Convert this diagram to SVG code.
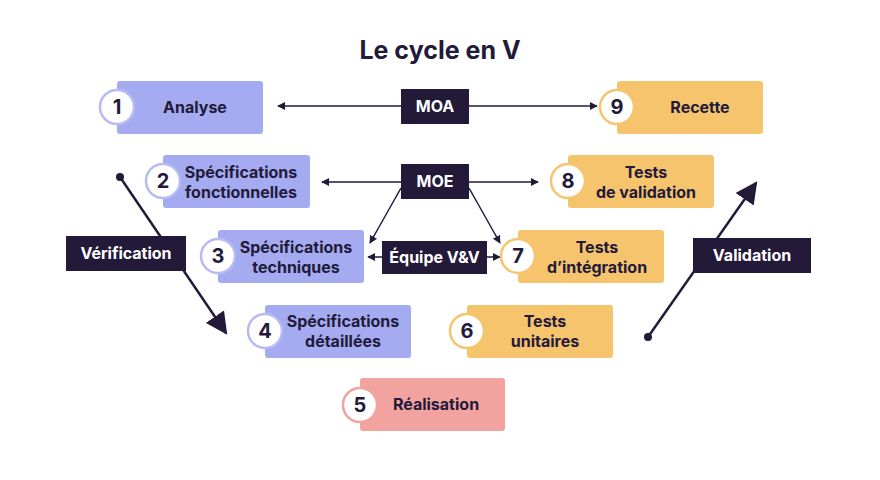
<svg xmlns="http://www.w3.org/2000/svg" width="880" height="480" viewBox="0 0 880 480">
<defs>
<style>
text{font-family:Inter,"Liberation Sans",sans-serif;font-weight:700;fill:#231a3a;text-anchor:middle}
.b{fill:#a4abf1}.o{fill:#f5c46d}.r{fill:#f2a39f}
.cb{fill:#fff;stroke:#b7bbf5;stroke-width:2.5}.co{fill:#fff;stroke:#f5c46d;stroke-width:2.5}.cr{fill:#fff;stroke:#f2a39f;stroke-width:2.5}
.t{font-size:16px}.n{font-size:20px}
.d{fill:#231a3a}.w{fill:#fff;font-size:16px}
.l{stroke:#231a3a;stroke-width:1.5;fill:none;marker-end:url(#a)}
.v{stroke:#231a3a;stroke-width:2.5;fill:none}
</style>
<marker id="a" viewBox="0 0 10 10" refX="9" refY="5" markerWidth="8" markerHeight="8" markerUnits="userSpaceOnUse" orient="auto"><path d="M0,0L10,5L0,10z" fill="#231a3a"/></marker>
<marker id="big" viewBox="0 0 10 10" refX="9" refY="5" markerWidth="22" markerHeight="22" markerUnits="userSpaceOnUse" orient="auto"><path d="M0,0L10,5L0,10z" fill="#231a3a"/></marker>
</defs>
<rect width="880" height="480" fill="#fff"/>
<text x="440" y="59" style="font-size:25px">Le cycle en V</text>
<g id="connectors">
<line class="l" x1="401" y1="106" x2="278" y2="106"/>
<line class="l" x1="469" y1="106" x2="597" y2="106"/>
<line class="l" x1="401" y1="182" x2="322" y2="182"/>
<line class="l" x1="469" y1="182" x2="538" y2="182"/>
<line class="l" x1="401" y1="188" x2="370" y2="243"/>
<line class="l" x1="469" y1="188" x2="500" y2="243"/>
<line class="l" x1="382" y1="257" x2="368" y2="257"/>
<line class="l" x1="487" y1="257" x2="500" y2="257"/>
<circle cx="120" cy="177" r="4" class="d"/>
<line class="v" x1="120" y1="177" x2="226" y2="333" style="marker-end:url(#big)"/>
<circle cx="648" cy="337" r="4" class="d"/>
<line class="v" x1="648" y1="337" x2="756" y2="183" style="marker-end:url(#big)"/>
</g>
<g id="n1"><rect class="b" x="117" y="81" width="146" height="53" rx="3"/><circle class="cb" cx="117" cy="107" r="17"/><text class="n" x="117" y="114">1</text><text class="t" x="195" y="113">Analyse</text></g>
<g id="moa"><rect class="d" x="401" y="89" width="68" height="35"/><text class="w" x="435" y="112">MOA</text></g>
<g id="n9"><rect class="o" x="617" y="81" width="146" height="53" rx="3"/><circle class="co" cx="617" cy="107" r="17"/><text class="n" x="617" y="114">9</text><text class="t" x="700" y="113">Recette</text></g>
<g id="n2"><rect class="b" x="163" y="155" width="147" height="53" rx="3"/><circle class="cb" cx="163" cy="181" r="17"/><text class="n" x="163" y="188">2</text><text class="t" x="241" y="178">Spécifications</text><text class="t" x="241" y="198">fonctionnelles</text></g>
<g id="moe"><rect class="d" x="401" y="164" width="68" height="35"/><text class="w" x="435" y="187">MOE</text></g>
<g id="n8"><rect class="o" x="568" y="155" width="146" height="53" rx="3"/><circle class="co" cx="568" cy="181" r="17"/><text class="n" x="568" y="188">8</text><text class="t" x="646" y="178">Tests</text><text class="t" x="646" y="198">de validation</text></g>
<g id="n3"><rect class="b" x="218" y="230" width="146" height="53" rx="3"/><circle class="cb" cx="218" cy="256" r="17"/><text class="n" x="218" y="263">3</text><text class="t" x="296" y="253">Spécifications</text><text class="t" x="296" y="273">techniques</text></g>
<g id="vv"><rect class="d" x="382" y="241" width="105" height="33"/><text class="w" x="434.5" y="263">Équipe V&amp;V</text></g>
<g id="n7"><rect class="o" x="518" y="230" width="146" height="53" rx="3"/><circle class="co" cx="518" cy="256" r="17"/><text class="n" x="518" y="263">7</text><text class="t" x="597" y="253">Tests</text><text class="t" x="597" y="273">d’intégration</text></g>
<g id="n4"><rect class="b" x="265" y="305" width="146" height="53" rx="3"/><circle class="cb" cx="265" cy="331" r="17"/><text class="n" x="265" y="338">4</text><text class="t" x="343" y="327">Spécifications</text><text class="t" x="343" y="347">détaillées</text></g>
<g id="n6"><rect class="o" x="467" y="305" width="146" height="53" rx="3"/><circle class="co" cx="467" cy="331" r="17"/><text class="n" x="467" y="338">6</text><text class="t" x="545" y="327">Tests</text><text class="t" x="545" y="347">unitaires</text></g>
<g id="n5"><rect class="r" x="360" y="378" width="145" height="53" rx="3"/><circle class="cr" cx="360" cy="405" r="17"/><text class="n" x="360" y="412">5</text><text class="t" x="436" y="410">Réalisation</text></g>
<g id="verif"><rect class="d" x="66" y="236" width="120" height="35"/><text class="w" x="126" y="259">Vérification</text></g>
<g id="valid"><rect class="d" x="693" y="238" width="118" height="35"/><text class="w" x="752" y="261">Validation</text></g>
</svg>
